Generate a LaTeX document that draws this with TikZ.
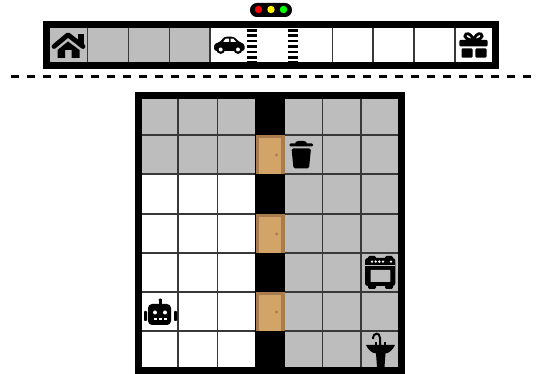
\documentclass[tikz,border=0pt]{standalone}
\definecolor{cellgray}{HTML}{BDBDBD}
\definecolor{doorout}{HTML}{A97C50}
\definecolor{doorin}{HTML}{D2A468}
\tikzset{
  x=0.75pt,y=-0.75pt,
  gridline/.style={draw=black!78,line width=0.85pt},
  frame/.style={fill=black},
  icon/.style={fill=black,draw=none},
}
\newcommand{\doorat}[1]{%
  \fill[doorout] (255.5,#1) rectangle (285,#1+39.5);
  \fill[doorin] (259,#1+3.5) rectangle (281,#1+39.5);
  \fill[doorout] (276.5,#1+20) circle (1.3pt);
}
\begin{document}
\begin{tikzpicture}
\useasboundingbox (0,0) rectangle (537,374);
% traffic light
\fill[black] (250,3) [rounded corners=5.2pt] rectangle (292,17);
\fill[red] (258.5,9.5) circle (2.8pt);
\fill[yellow] (271,9.5) circle (2.8pt);
\fill[green] (283.5,9.5) circle (2.8pt);
% top bar
\fill[frame] (43,21) rectangle (499,69);
\fill[cellgray] (50,28) rectangle (210,62);
\fill[white] (210,28) rectangle (492,62);
\foreach \x in {87.7,128.3,169.5,210,332.3,373,414,455}
  \draw[gridline] (\x,28) -- (\x,62);
% crosswalks
\foreach \x in {247,287.5}
  \foreach \y in {29,34.4,39.8,45.2,50.6,56}
    \fill[black] (\x,\y) rectangle (\x+10,\y+2.6);
\fill[black] (247,61) rectangle (257,62);
\fill[black] (287.5,61) rectangle (297.5,62);
% dashed separator
\draw[line width=2.25pt,dash pattern=on 6pt off 6pt] (11.3,76.3) -- (531,76.3);
% main grid
\fill[frame] (135,92) rectangle (405,374);
\fill[cellgray] (142,99) rectangle (255,174);
\fill[white] (142,174) rectangle (255,367);
\fill[cellgray] (285,99) rectangle (398,367);
\foreach \x in {178,217.5} \draw[gridline] (\x,99) -- (\x,367);
\foreach \x in {322.5,361} \draw[gridline] (\x,99) -- (\x,367);
\foreach \y in {135,174,214,253,292,331} {
  \draw[gridline] (142,\y) -- (255,\y);
  \draw[gridline] (285,\y) -- (398,\y);
}
\doorat{135}
\doorat{214}
\doorat{292}
% house
\fill[black] (78,34) rectangle (83.5,45);
\draw[line width=3.6pt,line join=round,line cap=round] (54,46.5) -- (68,34.8) -- (83,46.5);
\fill[black] (68,41.5) -- (79.5,50) -- (79.5,58) -- (71.5,58) -- (71.5,50) -- (65,50) -- (65,58) -- (57.5,58) -- (57.5,50) -- cycle;
% car
\fill[icon,rounded corners=2pt] (214,51) -- (214,44) -- (220.5,41.8) -- (224,36.7) -- (234,36.7) -- (239,41.8) -- (244.7,44) -- (244.7,51) -- cycle;
\fill[white] (225.5,38.7) -- (229,38.7) -- (229,41.8) -- (223.3,41.8) -- cycle;
\fill[white] (230.7,38.7) -- (233.3,38.7) -- (236,41.8) -- (230.7,41.8) -- cycle;
\fill[white] (214,50.6) rectangle (244.7,52);
\foreach \x in {220.7,238} {
  \fill[black] (\x,49.5) circle (3.3pt);
  \fill[white] (\x,49.5) circle (1.5pt);
}
% gift
\fill[icon,rounded corners=0.8pt] (459.3,40) rectangle (487.7,46.3);
\fill[icon,rounded corners=0.8pt] (461.5,48.4) rectangle (472.6,57.7);
\fill[icon,rounded corners=0.8pt] (475.4,48.4) rectangle (486.5,57.7);
\draw[line width=2.1pt] (473.5,40) .. controls (468,40.5) and (462.5,37) .. (466,34) .. controls (469,32.5) and (472,36) .. (473.5,40) .. controls (475,36) and (478,32.5) .. (481,34) .. controls (484.5,37) and (479,40.5) .. (473.5,40);
% trash can
\fill[icon,rounded corners=0.8pt] (289.5,143.5) rectangle (313,146.5);
\fill[icon,rounded corners=1pt] (295,142.5) -- (297,141) -- (305,141) -- (307,142.5) -- (307,144) -- (295,144) -- cycle;
\fill[icon,rounded corners=1.2pt] (291.5,148.5) -- (311,148.5) -- (309,168.5) -- (293.5,168.5) -- cycle;
% robot
\fill[icon,rounded corners=3pt] (148,304) rectangle (171,325);
\fill[black] (159,299.5) rectangle (161.5,304.5);
\fill[black] (160.2,300) circle (1.3pt);
\fill[icon,rounded corners=0.6pt] (144,311) rectangle (147,321);
\fill[icon,rounded corners=0.6pt] (174,311) rectangle (177,321);
\fill[white] (155,312.5) circle (1.5pt);
\fill[white] (165,312.5) circle (1.5pt);
\foreach \x in {153.5,158.5,163.5} \fill[white] (\x,318.5) rectangle (\x+3,320);
% stove
\fill[icon,rounded corners=2pt] (365,258) rectangle (395.3,286);
\fill[icon,rounded corners=1pt] (368,256) rectangle (376,260);
\fill[icon,rounded corners=1pt] (385,256) rectangle (393,260);
\fill[icon,rounded corners=1pt] (368,284) rectangle (376,289);
\fill[icon,rounded corners=1pt] (385,284) rectangle (393,289);
\fill[cellgray] (365,265.2) rectangle (395.3,266.2);
\fill[cellgray,rounded corners=0.5pt] (370.5,270) rectangle (390.3,282);
\foreach \x in {372,375.7,379.4,383,391} \fill[white] (\x,261.6) circle (1pt);
% sink
\fill[icon] (366,345) .. controls (368,349) and (371,353) .. (376,353.5) -- (377,367) -- (384.5,367) -- (385.5,353.5) .. controls (390,353) and (393,349) .. (395,345) -- cycle;
\draw[line width=1.5pt] (373,339) .. controls (373,332) and (380,332) .. (380,338) -- (380,346);
\fill[black] (383.5,342) rectangle (385.8,346);
\fill[black] (374.5,342) rectangle (376.5,346);
\end{tikzpicture}
\end{document}
